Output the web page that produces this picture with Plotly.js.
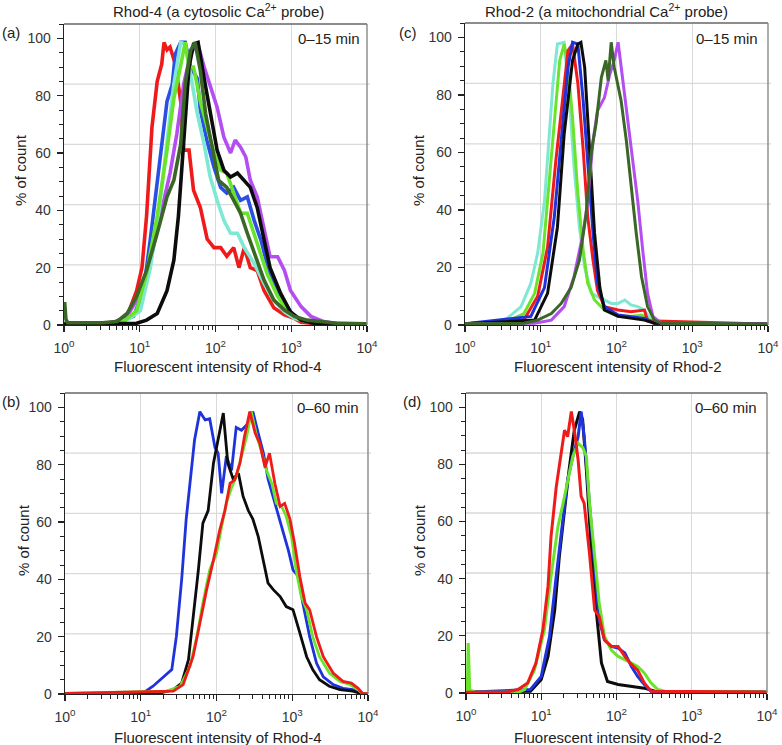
<!DOCTYPE html>
<html><head><meta charset="utf-8">
<script src="https://cdn.plot.ly/plotly-3.0.1.min.js"></script>
<style>html,body{margin:0;padding:0;background:#fff}#chart{width:782px;height:745px}</style>
</head><body><div id="chart"></div>
<script>
// ---------- tick labels ----------
const xTickVals = [1, 10, 100, 1000, 10000];
const xTickText = ['10<sup>0</sup>', '10<sup>1</sup>', '10<sup>2</sup>', '10<sup>3</sup>', '10<sup>4</sup>'];
const yTickVals = [0, 20, 40, 60, 80, 100];
const yGridVals = [21, 42, 63, 84];

// ---------- panel (a) Rhod-4, 0–15 min ----------
const a_red_x = [1, 3.2, 6.2, 6.8, 9.1, 10.7, 12.3, 14.5, 17, 19.5, 20.9, 22.9, 25.1, 29.5, 34.7, 38, 44.7, 51.3, 63.1, 77.6, 95.5, 117, 141, 174, 204, 240, 288, 355, 437, 589, 813, 1096, 1349, 1995, 10000];
const a_red_y = [0.5, 0.5, 1.5, 3, 12, 20, 38, 69, 85, 91, 98.6, 96, 97, 91, 78, 61, 61, 47, 41, 30, 27, 27, 24, 27, 20, 27, 20, 19, 12, 6, 3.5, 2.3, 1, 0.5, 0.3];
const a_purple_x = [1, 4, 6.8, 10.2, 13.8, 18.6, 25.1, 30.9, 38, 46.8, 57.5, 70.8, 85.1, 105, 129, 158, 182, 214, 251, 288, 355, 437, 525, 661, 813, 977, 1349, 1820, 2692, 3715, 10000];
const a_purple_y = [0.4, 0.4, 3, 11, 22.6, 38, 53, 66.7, 84, 94.5, 98.6, 90, 83, 76, 65.5, 60, 64.5, 62, 58.6, 50.5, 44.7, 34, 23.8, 23.8, 19, 12, 6.4, 3, 1.2, 0.6, 0.3];
const a_blue_x = [1, 4, 8.3, 11.2, 13.8, 17, 20.9, 22.9, 26.9, 29.5, 34.7, 39.8, 46.8, 57.5, 63.1, 77.6, 95.5, 117, 141, 174, 214, 263, 324, 398, 479, 589, 813, 1096, 1622, 2512, 10000];
const a_blue_y = [0.5, 0.5, 3, 12, 30, 49, 69, 78, 84, 94.5, 98.6, 98.6, 90, 86, 75, 64, 55, 48, 46, 48, 43.5, 44.7, 36.5, 29.6, 21.5, 14.5, 7.5, 3, 1.2, 0.5, 0.3];
const a_cyan_x = [1, 4, 7.1, 10.2, 13.8, 18.6, 22.9, 28.2, 34.7, 39.8, 46.8, 57.5, 70.8, 85.1, 105, 129, 158, 195, 240, 324, 437, 589, 813, 1096, 1622, 2512, 10000];
const a_cyan_y = [0.5, 0.5, 2, 5, 20, 43, 64, 84, 98.6, 98, 87.5, 73.7, 63, 51.6, 43.5, 36.5, 32, 32, 27, 21.5, 14.5, 8.7, 4.6, 2.3, 1.2, 0.5, 0.3];
const a_green_x = [1, 4, 6.3, 9.1, 12.3, 17, 22.9, 28.2, 34.7, 39.8, 44.7, 51.3, 63.1, 77.6, 95.5, 117, 141, 174, 214, 263, 324, 398, 479, 661, 891, 1349, 2239, 10000];
const a_green_y = [0.5, 0.5, 1.5, 5, 18, 38, 61, 79, 90.5, 98.6, 90, 90, 78, 69, 60, 54, 53, 46, 39, 39, 32, 25, 18, 10, 5, 1.7, 0.5, 0.3];
const a_black_x = [1, 7.9, 9.1, 12.3, 17, 22.9, 28.2, 32.4, 36.3, 39.8, 44.7, 51.3, 58.9, 70.8, 85.1, 105, 129, 158, 195, 240, 288, 355, 437, 525, 724, 977, 1349, 1995, 10000];
const a_black_y = [0.3, 0.3, 0.6, 1.7, 4, 12, 22.6, 38, 57, 75, 90, 98, 98.6, 86, 75, 61, 54, 51.6, 53, 50.5, 48, 41, 29.6, 20, 11, 4.6, 1.7, 0.6, 0.3];
const a_dkgreen_x = [1.02, 1.06, 1.12, 3.2, 5, 6.8, 9.1, 12.3, 17, 22.9, 28.2, 34.7, 39.8, 46.8, 53.7, 63.1, 74.1, 91.2, 110, 141, 174, 214, 263, 324, 437, 589, 813, 1096, 1622, 2455, 3981, 10000];
const a_dkgreen_y = [8, 2, 0.8, 0.8, 1.2, 4, 10, 19, 32, 44.7, 50.5, 63, 84, 95.7, 98.6, 88.7, 73.7, 61, 50.5, 48, 43.5, 39, 32, 25, 15.7, 8.7, 5.2, 3, 1.7, 1.2, 0.6, 0.4];

// ---------- panel (c) Rhod-2, 0–15 min ----------
const c_cyan_x = [1, 2.2, 3.6, 5.5, 7.4, 9.1, 11.2, 12.9, 14.5, 16.6, 20.4, 24, 27.5, 32.4, 38, 46.8, 56.2, 69.2, 85.1, 105, 129, 155, 191, 234, 288, 355, 10000];
const c_cyan_y = [0.4, 0.6, 2.3, 6.4, 14.5, 25, 43, 66.5, 84, 97.7, 98.3, 78, 55, 34, 20, 11, 10, 8.7, 7.5, 7.5, 8.7, 7, 6.4, 5.2, 1.7, 0.6, 0.3];
const c_green_x = [1, 3.6, 6, 8.3, 10.7, 12.9, 15.1, 17.8, 20.4, 22.9, 26.3, 30.9, 36.3, 41.7, 51.3, 69.2, 105, 155, 214, 257, 316, 10000];
const c_green_y = [0.4, 1.2, 4, 11, 25, 49, 72, 92, 97.7, 89.6, 72, 45.7, 26, 14.5, 8.7, 5.2, 3, 3, 3.5, 2.3, 0.6, 0.3];
const c_red_x = [1, 6, 9.1, 12.3, 15.8, 19.5, 22.9, 26.3, 30.9, 36.3, 41.7, 49, 56.2, 69.2, 105, 155, 234, 257, 10000];
const c_red_y = [0.4, 1.7, 10, 27, 57, 80, 95.4, 97.7, 84, 61, 37.6, 22.5, 12, 6.4, 5.2, 4.6, 5.2, 1.5, 0.3];
const c_blue_x = [1, 7.4, 11.2, 15.1, 18.6, 22.9, 26.3, 30.9, 36.3, 41.7, 49, 56.2, 69.2, 105, 155, 234, 316, 10000];
const c_blue_y = [0.4, 3, 13, 37.6, 64, 89.6, 98.3, 97.7, 78, 55, 32, 14.5, 6.4, 3.5, 3, 2.3, 0.6, 0.3];
const c_black_x = [1, 8.3, 12.3, 16.6, 20.4, 24, 26.3, 30.9, 33.9, 38, 43.7, 51.3, 60.3, 69.2, 105, 155, 234, 316, 10000];
const c_black_y = [0.4, 1.7, 11, 34, 66.5, 84, 92, 97.7, 98.3, 89.6, 61, 32, 13, 5.2, 3, 2.3, 1.7, 0.6, 0.3];
const c_purple_x = [1, 8.3, 13.8, 20.4, 27.5, 36.3, 41.7, 49, 56.2, 69.2, 81.3, 93.3, 105, 115, 135, 155, 191, 224, 257, 302, 389, 10000];
const c_purple_y = [0.4, 0.6, 1.7, 6.4, 16.8, 32, 43, 64, 74.6, 79, 87, 92, 98.3, 89.6, 75.7, 63, 43, 25, 11, 3, 0.6, 0.3];
const c_dkgreen_x = [1, 6, 9.1, 13.8, 18.6, 25.1, 32.4, 39.8, 46.8, 53.7, 63.1, 72.4, 77.6, 85.1, 93.3, 115, 135, 155, 182, 214, 257, 316, 389, 10000];
const c_dkgreen_y = [0.4, 0.6, 1.7, 4, 7.5, 13, 22.5, 38.7, 60.7, 70, 86, 92, 85, 98.3, 89.6, 78, 64, 48, 32, 16.8, 6.4, 1.7, 0.6, 0.3];

// ---------- panel (b) Rhod-4, 0–60 min ----------
const b_blue_x = [1, 10.7, 14.5, 20, 25.7, 29.5, 34.7, 39.8, 46.8, 51.3, 60.3, 70.8, 81.3, 95.5, 105, 117, 135, 158, 182, 214, 263, 302, 355, 417, 479, 562, 646, 759, 891, 1023, 1202, 1380, 1698, 2089, 2570, 3467, 4677, 6310, 7762, 10000];
const b_blue_y = [0.2, 0.3, 2.7, 6, 8.5, 20, 40, 61, 78, 88.6, 98.5, 95.6, 96, 86, 84, 70, 83, 78, 93, 92, 94.5, 98.5, 91, 84, 75, 68.7, 63, 57, 50, 43.3, 41, 31.7, 20, 10.8, 6, 3.3, 2, 1.5, 0.3, 0.2];
const b_black_x = [1, 17.8, 26.9, 34.7, 42.7, 49, 57.5, 66.1, 77.6, 91.2, 105, 123, 141, 166, 195, 224, 263, 302, 355, 417, 479, 562, 692, 832, 1023, 1259, 1549, 1862, 2291, 3090, 4266, 6310, 7762, 10000];
const b_black_y = [0.2, 0.3, 1.5, 3.8, 12, 26, 43, 59.6, 64, 80.5, 88.6, 98, 80.5, 75, 77, 69, 64, 61, 55, 45.6, 38.7, 36.4, 34, 30.5, 29.4, 21.3, 13, 8.5, 5, 2.7, 1.5, 1, 0.3, 0.2];
const b_green_x = [1, 21.9, 33.1, 44.7, 55, 66.1, 81.3, 100, 117, 135, 158, 182, 214, 251, 288, 339, 389, 457, 537, 617, 724, 832, 977, 1122, 1318, 1549, 1862, 2291, 3090, 4266, 5754, 7413, 8511, 10000];
const b_green_y = [0.2, 1, 2.7, 9.6, 20, 31.7, 43.3, 49, 58.4, 66.5, 72, 75.8, 83, 90, 98.5, 90, 85, 78, 73.5, 66.5, 65.4, 62, 55, 43.3, 34, 29.4, 20, 13, 7.3, 4.4, 3.3, 1.5, 0.1, 0.1];
const b_red_x = [1, 26.9, 36.3, 49, 60.3, 74.1, 91.2, 110, 129, 151, 174, 204, 234, 275, 324, 372, 437, 501, 589, 692, 794, 933, 1072, 1259, 1479, 1698, 2089, 2570, 3467, 4677, 6026, 7413, 8511, 10000];
const b_red_y = [0.2, 1, 3.3, 13, 24.7, 36.4, 46.8, 57, 64, 73.5, 74.7, 80.5, 89.8, 98.5, 91, 87.5, 79, 84, 73.5, 65.4, 66.5, 61, 52.6, 41, 31.7, 29.4, 20, 13, 7.3, 4.4, 3.8, 2, 0.1, 0.1];

// ---------- panel (d) Rhod-2, 0–60 min ----------
const d_black_x = [1, 7.2, 10, 12.3, 15.1, 17.4, 20.4, 23.4, 27.5, 32.4, 35.5, 39.8, 45.7, 53.7, 63.1, 75.9, 105, 158, 234, 324, 10000];
const d_black_y = [0.3, 0.6, 4.7, 12.8, 29, 47.8, 64, 78, 92, 98.5, 95.6, 78, 52.4, 29, 10.5, 4, 3, 2.3, 1.7, 0.6, 0.3];
const d_blue_x = [1, 7.2, 10, 12.9, 15.8, 19.5, 22.4, 26.3, 30.9, 33.9, 37.2, 43.7, 51.3, 58.9, 69.2, 85.1, 105, 129, 158, 191, 234, 288, 10000];
const d_blue_y = [0.3, 1.2, 5.8, 19.8, 40.8, 60.6, 74.6, 82.8, 89.7, 98.5, 89.7, 66.4, 43, 25.6, 18.6, 16.3, 15.7, 14, 9.3, 5.8, 3, 0.6, 0.3];
const d_green_x = [1.04, 1.07, 1.12, 1.3, 5, 6, 8.1, 11, 13.5, 16.6, 19.5, 22.4, 26.3, 30.9, 35.5, 39.8, 43.7, 51.3, 58.9, 69.2, 85.1, 105, 129, 158, 191, 234, 288, 355, 437, 10000];
const d_green_y = [0.3, 17.5, 1.2, 0.3, 0.3, 1.2, 8, 22, 40.8, 58, 66.4, 74.6, 82.8, 87.4, 86, 82.8, 66.4, 47.8, 31.5, 19.8, 15, 12.8, 11.7, 10.5, 9.3, 7, 3.5, 1.2, 0.6, 0.3];
const d_red_x = [1, 3.5, 4.9, 6.6, 8.5, 10.5, 12.3, 13.5, 15.8, 18.2, 20.4, 22.4, 25.1, 27.5, 30.9, 33.9, 37.2, 43.7, 51.3, 58.9, 69.2, 85.1, 105, 129, 158, 191, 234, 288, 10000];
const d_red_y = [0.3, 0.3, 1.2, 3.5, 10.5, 22, 37.3, 54.8, 72, 84, 92, 89.7, 98.5, 92, 81.6, 68.8, 66.4, 49, 29, 26.8, 18.6, 16.3, 16.3, 12.8, 10, 8, 3.5, 0.6, 0.3];

// ---------- styling / layout ----------
const COL = {red:'#ef1b1b', blue:'#2b4fe4', blue2:'#1e33dc', cyan:'#7fe8d4', green:'#6ae42a', black:'#0c0c0c', purple:'#b44ef0', dkgreen:'#3a6626'};
const W = 782, H = 745;
const FONT = 'Liberation Sans, Arial, Helvetica, sans-serif';
// pixel boxes [left, right, top, bottom]
const panels = [
  {id:'', box:[64,367,24,325], lw:3.6, series:[
    [a_red_x,a_red_y,COL.red],[a_purple_x,a_purple_y,COL.purple],[a_blue_x,a_blue_y,COL.blue],
    [a_cyan_x,a_cyan_y,COL.cyan],[a_green_x,a_green_y,COL.green],[a_black_x,a_black_y,COL.black],
    [a_dkgreen_x,a_dkgreen_y,COL.dkgreen]]},
  {id:'2', box:[465,768,23,325], lw:3.0, series:[
    [c_cyan_x,c_cyan_y,COL.cyan],[c_green_x,c_green_y,COL.green],[c_red_x,c_red_y,COL.red],
    [c_blue_x,c_blue_y,COL.blue2],[c_black_x,c_black_y,COL.black],[c_purple_x,c_purple_y,COL.purple],
    [c_dkgreen_x,c_dkgreen_y,COL.dkgreen]]},
  {id:'3', box:[65,368,393,694], lw:2.8, series:[
    [b_blue_x,b_blue_y,COL.blue2],[b_black_x,b_black_y,COL.black],[b_green_x,b_green_y,COL.green],
    [b_red_x,b_red_y,COL.red]]},
  {id:'4', box:[466,767,393,693], lw:3.0, series:[
    [d_black_x,d_black_y,COL.black],[d_blue_x,d_blue_y,COL.blue2],[d_green_x,d_green_y,COL.green],
    [d_red_x,d_red_y,COL.red]]}
];

const xMinor = [];
[1,10,100,1000].forEach(function(dec){ for (let k=2;k<=9;k++) xMinor.push(dec*k); });

const data = [];
const layout = {
  width: W, height: H, margin:{l:0,r:0,t:0,b:0}, showlegend:false,
  paper_bgcolor:'#fff', plot_bgcolor:'#fff',
  font:{family:FONT, size:14, color:'#333'},
  shapes:[], annotations:[]
};

panels.forEach(function(p){
  const [L,R,T,B] = p.box;
  const xa = 'x'+p.id, ya = 'y'+p.id;
  p.series.forEach(function(s){
    data.push({x:s[0], y:s[1], xaxis:xa, yaxis:ya, type:'scatter', mode:'lines',
      line:{color:s[2], width:p.lw, shape:'linear'}, hoverinfo:'skip'});
  });
  layout['xaxis'+p.id] = {
    type:'log', range:[0,4], domain:[L/W, R/W], anchor:ya,
    tickmode:'array', tickvals:xTickVals, ticktext:xTickText,
    ticks:'outside', ticklen:6, tickwidth:1.2, tickcolor:'#222',
    showline:true, linecolor:'#222', linewidth:1.3,
    showgrid:true, gridcolor:'#d9d9d9', gridwidth:1.3, zeroline:false,
    tickfont:{family:FONT, size:14, color:'#333'}, ticklabelstandoff:4,
    minor:{tickmode:'array', tickvals:xMinor, ticks:'outside', ticklen:4, tickwidth:1, tickcolor:'#222', showgrid:false},
    fixedrange:true
  };
  layout['yaxis'+p.id] = {
    range:[0,105], domain:[(H-B)/H, (H-T)/H], anchor:xa,
    tickmode:'array', tickvals:yTickVals,
    ticks:'outside', ticklen:6, tickwidth:1.2, tickcolor:'#222',
    showline:true, linecolor:'#222', linewidth:1.3,
    showgrid:false, zeroline:false,
    tickfont:{family:FONT, size:14, color:'#333'}, ticklabelstandoff:3,
    minor:{dtick:5, ticks:'outside', ticklen:3.5, tickwidth:1, tickcolor:'#222', showgrid:false},
    fixedrange:true
  };
  yGridVals.forEach(function(v){
    layout.shapes.push({type:'line', layer:'below', xref:xa+' domain', yref:ya, x0:0, x1:1.01, y0:v, y1:v,
      line:{color:'#d9d9d9', width:1.3}});
  });
  layout.shapes.push({type:'line', layer:'above', xref:xa+' domain', yref:ya+' domain', x0:0, x1:1, y0:1, y1:1, line:{color:'#666', width:1.6}});
  layout.shapes.push({type:'line', layer:'above', xref:xa+' domain', yref:ya+' domain', x0:1, x1:1, y0:0, y1:1, line:{color:'#888', width:1.4}});
});

function ann(text, px, py, xanchor, size, rot){
  layout.annotations.push({text:text, xref:'paper', yref:'paper', x:px/W, y:1-py/H,
    xanchor:xanchor, yanchor:'middle', showarrow:false, textangle:rot||0,
    font:{family:FONT, size:size, color:'#222'}});
}
ann('Rhod-4 (a cytosolic Ca<sup>2+</sup> probe)', 218, 11, 'center', 15);
ann('Rhod-2 (a mitochondrial Ca<sup>2+</sup> probe)', 606, 11, 'center', 15);
ann('(a)', 0, 33, 'left', 15);
ann('(c)', 397, 33, 'left', 15);
ann('(b)', 0, 402, 'left', 15);
ann('(d)', 401, 402, 'left', 15);
ann('0–15 min', 362, 39, 'right', 15);
ann('0–15 min', 760, 39, 'right', 15);
ann('0–60 min', 361, 407, 'right', 15);
ann('0–60 min', 759, 407, 'right', 15);
ann('% of count', 20, 170, 'center', 15, -90);
ann('% of count', 418, 170, 'center', 15, -90);
ann('% of count', 23, 540, 'center', 15, -90);
ann('% of count', 419, 540, 'center', 15, -90);
ann('Fluorescent intensity of Rhod-4', 218, 366, 'center', 15);
ann('Fluorescent intensity of Rhod-2', 618, 366, 'center', 15);
ann('Fluorescent intensity of Rhod-4', 218, 737, 'center', 15);
ann('Fluorescent intensity of Rhod-2', 618, 737, 'center', 15);

Plotly.newPlot('chart', data, layout, {displayModeBar:false, staticPlot:true});
</script>
</body></html>
